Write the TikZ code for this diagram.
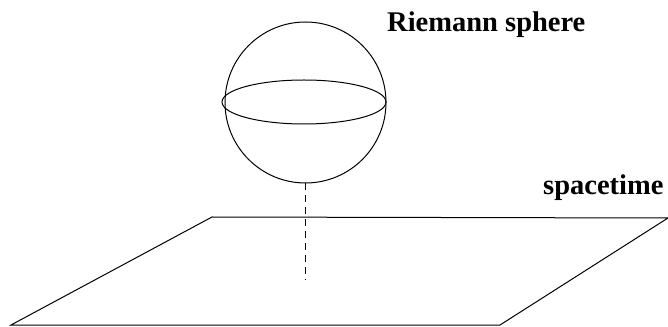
\documentclass[tikz,border=0pt]{standalone}
\usepackage{fontspec}
\setmainfont{Liberation Serif}
\usetikzlibrary{shapes.geometric, positioning}
\tikzset{
    line/.style={draw=black, line width=1pt},
    sphere/.style={circle, draw=black, line width=1pt, minimum size=161pt, inner sep=0pt},
    equator/.style={ellipse, draw=black, line width=1pt, minimum width=164pt, minimum height=44pt, inner sep=0pt},
    label/.style={font=\fontsize{28.5}{30}\selectfont\bfseries, inner sep=0pt, anchor=base west},
    dashline/.style={draw=black, line width=1pt, dash pattern=on 7pt off 5pt}
}
\begin{document}
\begin{tikzpicture}[x=1pt, y=1pt]
        \useasboundingbox (0,0) rectangle (668,326);
        % sphere
        \node [sphere] (ball) at (305.5,223.5) {};
        \node [equator] (equ) at (304,224) {};
        \node [label] (rs) at (387,294) {Riemann sphere};
        % plane
        \coordinate (tl) at (212,109);
        \coordinate (tr) at (668,108);
        \coordinate (br) at (500,1);
        \coordinate (bl) at (11,1);
        \draw [line] (tl) -- (tr) -- (br) -- (bl) -- cycle;
        \node [label] (st) at (543,131) {spacetime};
        \coordinate (foot) at (305.5,46);
        \draw [dashline] (ball.south) -- (foot);
    \end{tikzpicture}
\end{document}
